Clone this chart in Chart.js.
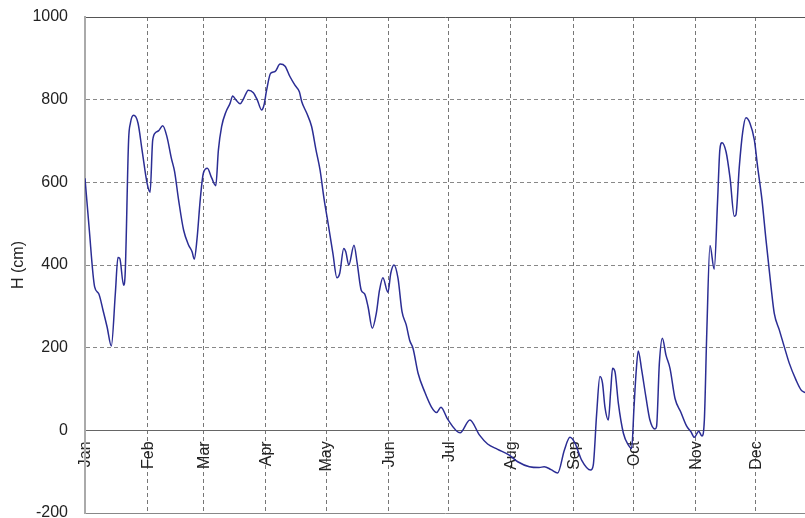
<!DOCTYPE html>
<html>
<head>
<meta charset="utf-8">
<script src="https://cdn.jsdelivr.net/npm/chart.js@4.4.1/dist/chart.umd.min.js"></script>
<style>
    html, body { margin: 0; padding: 0; background: #fff; }
    #grafico { display: block; }
</style>
</head>
<body>
<canvas id="grafico" width="805" height="518"></canvas>
<script>

// dia del año (0 = 1 Jan) y altura H (cm)
const dias = [0, 2, 4.8, 6.8, 9, 11, 13.1, 15.1, 16.4, 17.3, 19.2, 20, 21.7, 22.6, 24.2, 26.4, 28.4, 30.9, 32.4, 33.7,
    35.3, 36.7, 38.7, 40.8, 43, 44.6, 46.6, 49.1, 51.6, 53.3, 54.4, 55.7, 57.4, 58.9, 60.9, 63.1, 65.1, 66.4, 68, 70.2,
    72.2, 73.5, 75.2, 77.2, 78.8, 81.3, 83.8, 85.8, 87.9, 89.1, 90.4, 92.4, 94.6, 97.1, 99.6, 102, 104.5, 106.7, 107.9, 110.4,
    112.8, 115, 117, 119, 121, 123.4, 125.4, 126.8, 128.8, 129.8, 131.3, 133.9, 135.5, 137.5, 139.2, 140.9, 143, 145, 146.6, 148.3,
    150.8, 152.2, 153.8, 155.8, 157.8, 159.9, 161.6, 163.3, 165.8, 169.1, 172.4, 175, 177.2, 180.5, 186.7, 191.6, 196.3, 200.4, 205.4, 211.2,
    215.4, 221.2, 226.1, 228.6, 232, 235.3, 238.6, 241.4, 243.9, 247.2, 251.7, 253, 254.7, 256.3, 257.6, 258.8, 260.5, 261.7, 262.6, 263.8,
    265.5, 268, 270.5, 272.1, 273.3, 274.3, 275.4, 277.1, 279.2, 281.2, 283.7, 284.5, 285.9, 287.4, 289.2, 291.2, 293.7, 296.5, 299.5, 301.6,
    303.3, 305.5, 307.1, 308.3, 309.5, 311.1, 313.2, 314.9, 316, 317.1, 319.1, 321.1, 323.2, 324, 325.7, 327.4, 329, 331, 333.2, 334.8,
    337, 339, 341.5, 343.1, 345.6, 348.1, 350.6, 353.9, 356.4, 358.4]

const alturas = [610, 493, 347, 331, 290, 250, 204, 331, 418, 416, 351, 380, 702, 743, 762, 743, 678, 598, 576, 702,
    721, 725, 737, 710, 658, 626, 557, 484, 448, 432, 414, 460, 560, 622, 634, 610, 592, 678, 735, 771,
    791, 809, 799, 790, 801, 823, 817, 799, 775, 787, 823, 864, 868, 886, 881, 856, 835, 819, 795, 767,
    735, 678, 630, 560, 501, 428, 369, 380, 440, 432, 400, 448, 404, 339, 330, 299, 247, 283, 339, 369,
    334, 380, 400, 368, 287, 255, 218, 198, 138, 93, 57, 43, 56, 27, -6, 25, -11, -33, -46, -60,
    -76, -88, -90, -88, -95, -103, -48, -17, -31, -72, -96, -84, 41, 130, 114, 57, 25, 97, 150, 142,
    65, -7, -36, -44, 57, 138, 192, 146, 81, 25, 3, 9, 162, 223, 182, 150, 77, 45, 10, -3,
    -17, -2, -14, 25, 235, 447, 390, 557, 678, 696, 674, 610, 518, 521, 638, 722, 756, 743, 702, 638,
    557, 460, 347, 283, 243, 202, 162, 122, 98, 91]

// etiquetas del eje x: inicio de cada mes
const meses = ["Jan", "Feb", "Mar", "Apr", "May", "Jun", "Jul", "Aug", "Sep", "Oct", "Nov", "Dec"]
const inicioMes = [0, 31, 59, 90, 120, 151, 181, 212, 243, 273, 304, 334]

const yTicks = [-200, 0, 200, 400, 600, 800, 1000]

const fuente = { family: "'Liberation Sans', Arial, sans-serif", size: 16 }

document.addEventListener("DOMContentLoaded", () => {

    const ctx = document.getElementById("grafico").getContext("2d")

    new Chart(ctx, {
        type: "line",
        data: {
            datasets: [{
                label: "H",
                data: dias.map((d, i) => ({ x: d, y: alturas[i] })),
                borderColor: "#2b2d94",
                borderWidth: 1.5,
                pointRadius: 0,
                fill: false,
                cubicInterpolationMode: "monotone"
            }]
        },
        options: {
            responsive: false,
            animation: false,
            events: [],
            layout: { padding: { top: 17, bottom: 5, left: 0, right: 0 } },
            plugins: {
                legend: { display: false },
                tooltip: { enabled: false }
            },
            scales: {
                x: {
                    type: "linear",
                    position: { y: 0 },
                    min: 0,
                    max: 358.4,
                    afterBuildTicks: (scale) => {
                        scale.ticks = inicioMes.map(v => ({ value: v }))
                    },
                    afterFit: (scale) => {
                        scale.paddingLeft = 0
                        scale.paddingRight = 0
                    },
                    ticks: {
                        autoSkip: false,
                        minRotation: 90,
                        maxRotation: 90,
                        padding: 11,
                        labelOffset: 1,
                        color: "#222",
                        font: fuente,
                        callback: (v) => meses[inicioMes.indexOf(v)]
                    },
                    grid: {
                        color: "#777",
                        lineWidth: 1,
                        drawTicks: false
                    },
                    border: {
                        display: true,
                        color: "#666",
                        width: 1,
                        dash: [4, 3]
                    }
                },
                y: {
                    min: -200,
                    max: 1000,
                    afterBuildTicks: (scale) => {
                        scale.ticks = yTicks.map(v => ({ value: v }))
                    },
                    afterFit: (scale) => {
                        scale.width = 85
                        scale.paddingTop = 0
                        scale.paddingBottom = 0
                    },
                    title: {
                        display: true,
                        text: "H (cm)",
                        color: "#222",
                        font: fuente,
                        padding: { top: 9, bottom: 0 }
                    },
                    ticks: {
                        padding: 17,
                        color: "#222",
                        font: fuente,
                        callback: (v) => String(v)
                    },
                    grid: {
                        color: (c) => c.tick && c.tick.value === 1000 ? "#555" : "#888",
                        lineWidth: 1,
                        drawTicks: false
                    },
                    border: {
                        display: true,
                        color: "#aaa",
                        width: 2,
                        dash: (c) => c.tick && (c.tick.value === 1000 || c.tick.value === -200) ? [] : [4, 3]
                    }
                }
            }
        }
    })
})
</script>
</body>
</html>
